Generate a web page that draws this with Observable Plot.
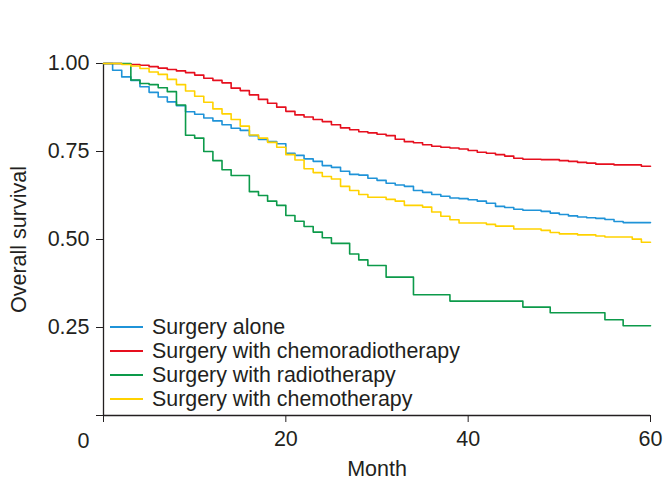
<!DOCTYPE html>
<html><head><meta charset="utf-8">
<script src="https://cdn.jsdelivr.net/npm/d3@7"></script>
<script src="https://cdn.jsdelivr.net/npm/@observablehq/plot@0.6"></script>
<style>
body{margin:0;background:#fff;}
#wrap{position:relative;width:663px;height:480px;font-family:"Liberation Sans",Arial,sans-serif;color:#231f20;}
#legend{position:absolute;left:110px;top:315px;font-size:21.4px;line-height:24px;}
.row{display:flex;align-items:center;height:24px;white-space:nowrap;}
.sw{width:33px;height:0;border-top:2px solid;margin-right:9px;}
</style></head><body><div id="wrap"><div id="legend"></div></div>
<script>
const groups = ["Surgery alone", "Surgery with chemoradiotherapy", "Surgery with radiotherapy", "Surgery with chemotherapy"];
const colors = ["#1f93d8", "#e60f1e", "#0c9a4a", "#ffd200"];
const months = [0,1,2,3,4,5,6,7,8,9,10,11,12,13,14,15,16,17,18,19,20,21,22,23,24,25,26,27,28,29,30,31,32,33,34,35,36,37,38,39,40,41,42,43,44,45,46,47,48,49,50,51,52,53,54,55,56,57,58,59,60];
const surgeryAlone = [1.000,0.981,0.962,0.952,0.934,0.918,0.905,0.891,0.880,0.863,0.856,0.845,0.837,0.826,0.816,0.810,0.795,0.784,0.778,0.772,0.745,0.739,0.729,0.722,0.710,0.705,0.694,0.685,0.683,0.674,0.668,0.660,0.655,0.651,0.639,0.634,0.628,0.623,0.618,0.616,0.613,0.609,0.603,0.594,0.591,0.586,0.583,0.583,0.580,0.575,0.571,0.567,0.564,0.562,0.560,0.557,0.551,0.548,0.548,0.548,0.548];
const chemoradio = [1.000,1.000,0.999,0.997,0.995,0.991,0.987,0.983,0.979,0.974,0.967,0.958,0.952,0.945,0.930,0.923,0.911,0.898,0.887,0.876,0.864,0.854,0.848,0.841,0.835,0.826,0.817,0.812,0.806,0.803,0.799,0.795,0.785,0.778,0.775,0.769,0.765,0.762,0.760,0.757,0.753,0.748,0.745,0.741,0.737,0.731,0.728,0.728,0.727,0.727,0.724,0.722,0.719,0.717,0.714,0.714,0.712,0.712,0.712,0.708,0.708];
const radio = [1.000,1.000,1.000,0.953,0.943,0.940,0.931,0.920,0.882,0.796,0.788,0.750,0.724,0.698,0.682,0.682,0.636,0.625,0.609,0.597,0.568,0.552,0.537,0.521,0.505,0.489,0.489,0.459,0.442,0.426,0.426,0.393,0.393,0.393,0.343,0.343,0.343,0.343,0.325,0.325,0.325,0.325,0.325,0.325,0.325,0.325,0.308,0.308,0.308,0.292,0.292,0.292,0.292,0.292,0.292,0.272,0.272,0.255,0.255,0.255,0.255];
const chemo = [1.000,1.000,0.997,0.993,0.986,0.976,0.969,0.955,0.940,0.922,0.907,0.890,0.871,0.857,0.841,0.822,0.797,0.788,0.776,0.762,0.741,0.726,0.701,0.690,0.679,0.672,0.651,0.639,0.628,0.620,0.620,0.614,0.609,0.597,0.597,0.592,0.578,0.566,0.556,0.547,0.547,0.547,0.543,0.538,0.538,0.530,0.530,0.530,0.526,0.520,0.516,0.516,0.513,0.513,0.510,0.507,0.507,0.507,0.501,0.492,0.492];
const yTicks = [0, 0.25, 0.5, 0.75, 1];
const xTicks = [0, 20, 40, 60];

const seriesValues = [surgeryAlone, chemoradio, radio, chemo];
const data = [];
groups.forEach((g, i) => months.forEach((m, j) => data.push({group: g, month: m, surv: seriesValues[i][j]})));
const originLabel = [{x: 0, y: 0, text: "0"}];

const ink = "#231f20";
const chart = Plot.plot({
  width: 663, height: 480,
  marginLeft: 103, marginRight: 13, marginTop: 63, marginBottom: 65,
  style: {fontFamily: '"Liberation Sans", Arial, sans-serif', fontSize: "21.5px", color: ink, background: "white"},
  x: {domain: [0, 60]},
  y: {domain: [0, 1]},
  color: {domain: groups, range: colors},
  marks: [
    Plot.axisY({ticks: yTicks, tickSize: 7, tickPadding: 7, tickFormat: d => d === 0 ? "" : d3.format(".2f")(d), label: "Overall survival", labelAnchor: "center", labelArrow: "none", labelOffset: 93, fontSize: 21.5}),
    Plot.axisX({ticks: xTicks, tickSize: 7, tickPadding: 8, tickFormat: d => d === 0 ? "" : String(d), label: "Month", labelAnchor: "center", labelArrow: "none", labelOffset: 60, fontSize: 21.5}),
    Plot.ruleX([0], {y1: 0, y2: 1, stroke: ink, strokeWidth: 1.3}),
    Plot.ruleY([0], {x1: 0, x2: 60, stroke: ink, strokeWidth: 1.3}),
    Plot.text(originLabel, {x: "x", y: "y", text: "text", dx: -20, dy: 26, fontSize: 21.5, fill: ink}),
    Plot.line(data, {x: "month", y: "surv", stroke: "group", curve: "step-after", strokeWidth: 1.6})
  ]
});
document.getElementById("wrap").prepend(chart);
const legend = document.getElementById("legend");
groups.forEach((g, i) => {
  const row = document.createElement("div");
  row.className = "row";
  row.innerHTML = `<span class="sw" style="border-color:${colors[i]}"></span><span>${g}</span>`;
  legend.appendChild(row);
});
</script></body></html>
